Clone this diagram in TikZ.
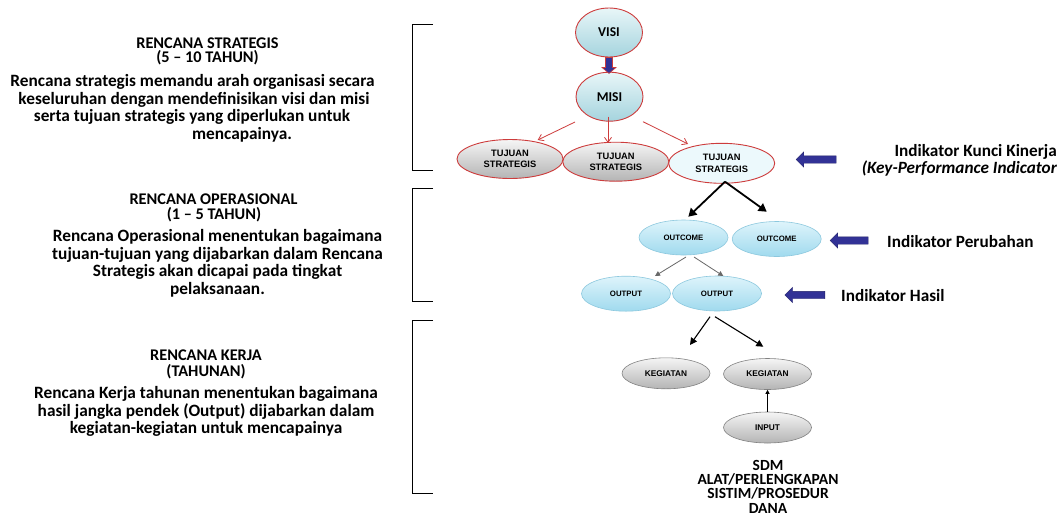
\documentclass[tikz,border=0pt]{standalone}
\usepackage{fontspec}
\newfontfamily\calf{Carlito}
\newfontfamily\arif{Liberation Sans}
\usetikzlibrary{shapes.geometric,shapes.arrows,arrows.meta,calc}
\definecolor{ored}{RGB}{205,60,60}
\definecolor{oblue}{RGB}{50,50,150}
\definecolor{cytop}{RGB}{232,246,248}
\definecolor{cybot}{RGB}{165,212,222}
\definecolor{grtop}{RGB}{245,245,245}
\definecolor{grbot}{RGB}{180,180,180}
\definecolor{bltop}{RGB}{222,244,251}
\definecolor{blbot}{RGB}{160,218,238}
\definecolor{blline}{RGB}{140,200,222}
\definecolor{grline}{RGB}{130,130,130}
\tikzset{
  ell/.style={ellipse, inner sep=0pt, align=center, line width=0.9pt},
  topell/.style={ell, draw=ored, top color=cytop, bottom color=cybot, minimum width=67pt, minimum height=49pt, font=\calf\bfseries\fontsize{13.5}{15}\selectfont},
  tsgray/.style={ell, draw=ored, top color=grtop, bottom color=grbot, minimum width=106pt, minimum height=39pt, font=\arif\bfseries\fontsize{9.3}{11.5}\selectfont},
  tslight/.style={ell, draw=ored, fill={rgb,255:red,236;green,249;blue,252}, minimum width=106pt, minimum height=40pt, font=\arif\bfseries\fontsize{9.3}{11.5}\selectfont},
  blell/.style={ell, draw=blline, line width=0.6pt, top color=bltop, bottom color=blbot, minimum width=89pt, minimum height=35pt, font=\arif\bfseries\fontsize{7.8}{9}\selectfont},
  grell/.style={ell, draw=grline, line width=0.6pt, top color=grtop, bottom color=grbot, minimum width=88pt, minimum height=31pt, font=\arif\bfseries\fontsize{8.3}{9}\selectfont},
  redarr/.style={draw=ored, line width=0.8pt, -{Straight Barb[length=5pt,width=7pt]}},
  blkarr/.style={draw=black, line width=1.8pt, -{Triangle[length=8pt,width=9pt]}},
  gryarr/.style={draw=grline!80!black, line width=0.8pt, -{Triangle[length=5pt,width=5pt]}},
  medarr/.style={draw=black, line width=1.1pt, -{Triangle[length=7pt,width=7pt]}},
  thinarr/.style={draw=black, line width=0.7pt, -{Triangle[length=4pt,width=4pt]}},
  bluearrow/.style={single arrow, fill=oblue, draw=oblue!70!black, line width=0.3pt, inner xsep=0pt, inner ysep=3.5pt, single arrow head extend=4pt, single arrow head indent=0pt, minimum height=40pt},
  titletxt/.style={font=\calf\bfseries\fontsize{16.3}{17.5}\selectfont, inner sep=0pt},
  lefttxt/.style={font=\calf\bfseries\fontsize{17.3}{17.5}\selectfont, inner sep=0pt},
  indtxt/.style={font=\calf\bfseries\fontsize{17.2}{17}\selectfont, inner sep=0pt},
  bracket/.style={draw=black, line width=0.8pt},
}
\begin{document}
\begin{tikzpicture}[x=1pt,y=-1pt]
\useasboundingbox (0,0) rectangle (1064,515);
\fill[white] (0,0) rectangle (1064,515);
% brackets
\draw[bracket] (433,24) -- (412,24) -- (412,170) -- (433,170);
\draw[bracket] (433,188) -- (412,188) -- (412,301) -- (433,301);
\draw[bracket] (433,320) -- (412,320) -- (412,493) -- (433,493);
% left texts block 1
\node[titletxt] (t1a) at (207.5,43) {RENCANA STRATEGIS};
\node[titletxt] (t1b) at (207.5,58) {(5 – 10 TAHUN)};
\node[lefttxt] (p1a) at (192.5,82) {Rencana strategis memandu arah organisasi secara};
\node[lefttxt] (p1b) at (194,99.5) {keseluruhan dengan mendefinisikan visi dan misi};
\node[lefttxt] (p1c) at (192,117) {serta tujuan strategis yang diperlukan untuk};
\node[lefttxt] (p1d) at (242,134.5) {mencapainya.};
% block 2
\node[titletxt] (t2a) at (213.5,199) {RENCANA OPERASIONAL};
\node[titletxt] (t2b) at (214,215) {(1 – 5 TAHUN)};
\node[lefttxt, align=center] (p2) at (217.5,263.3) {Rencana Operasional menentukan bagaimana\\tujuan-tujuan yang dijabarkan dalam Rencana\\Strategis akan dicapai pada tingkat\\pelaksanaan.};
% block 3
\node[titletxt] (t3a) at (206,355) {RENCANA KERJA};
\node[titletxt] (t3b) at (206,371.7) {(TAHUNAN)};
\node[lefttxt, align=center] (p3) at (206,411.7) {Rencana Kerja tahunan menentukan bagaimana\\hasil jangka pendek (Output) dijabarkan dalam\\kegiatan-kegiatan untuk mencapainya};
% diagram nodes
\node[topell] (visi) at (609,32.5) {VISI};
\node[topell] (misi) at (609.5,96.7) {MISI};
\node[tsgray] (ts1) at (510,159) {TUJUAN\\STRATEGIS};
\node[tsgray] (ts2) at (615.8,161.7) {TUJUAN\\STRATEGIS};
\node[tslight] (ts3) at (721.7,163.3) {TUJUAN\\STRATEGIS};
\node[blell] (oc1) at (683.5,237.5) {OUTCOME};
\node[blell] (oc2) at (776.7,239) {OUTCOME};
\node[blell] (op1) at (626,293.7) {OUTPUT};
\node[blell] (op2) at (717,293.5) {OUTPUT};
\node[grell] (kg1) at (666,373.3) {KEGIATAN};
\node[grell] (kg2) at (767.5,374) {KEGIATAN};
\node[grell] (inp) at (767.5,427.5) {INPUT};
\node[font=\calf\bfseries\fontsize{15.5}{14.3}\selectfont, align=center, inner sep=0pt] (res) at (768,486.5) {SDM\\ALAT/PERLENGKAPAN\\SISTIM/PROSEDUR\\DANA};
% visi -> misi block arrow
\coordinate (vs) at (visi.south);
\filldraw[fill=oblue, draw=ored, line width=0.6pt]
  ($(vs)+(-3.5,0)$) -- ($(vs)+(3.5,0)$) -- ($(vs)+(3.5,10)$) -- ($(vs)+(7,10)$)
  -- ($(vs)+(0,16)$) -- ($(vs)+(-7,10)$) -- ($(vs)+(-3.5,10)$) -- cycle;
% red arrows
\draw[redarr] ($(misi)+(-34.5,25.3)$) -- ($(ts1)+(27.7,-19)$);
\draw[redarr] ($(misi)+(-1.5,20)$) -- ($(ts2)+(-7.8,-18.7)$);
\draw[redarr] ($(misi)+(33.5,25)$) -- ($(ts3)+(-33.7,-19.3)$);
% black arrows from ts3
\draw[blkarr] ($(ts3)+(3.3,18.4)$) -- ($(oc1)+(4.8,-20.8)$);
\draw[blkarr] ($(ts3)+(3.3,18.4)$) -- ($(oc2)+(-10,-27.3)$);
% gray arrows from oc1
\draw[gryarr] ($(oc1)+(2.5,19.5)$) -- ($(op1)+(29,-17.7)$);
\draw[gryarr] ($(oc1)+(10.5,19.5)$) -- ($(op2)+(6.3,-17.5)$);
% arrows from op2
\draw[medarr] ($(op2)+(-7,23.2)$) -- ($(kg1)+(24,-28.3)$);
\draw[medarr] ($(op2)+(-2,23.2)$) -- ($(kg2)+(-4.2,-27.3)$);
% input arrow
\draw[thinarr] (inp.north) -- (kg2.south);
% indicator arrows and texts
\node[bluearrow, shape border rotate=180] (ba1) at (818,159.5) {};
\node[bluearrow, shape border rotate=180, minimum height=38pt] (ba2) at (851,240.5) {};
\node[bluearrow, shape border rotate=180] (ba3) at (806.7,295) {};
\node[indtxt, align=right, anchor=east] (ik) at (1057,160) {Indikator Kunci Kinerja\\\itshape (Key-Performance Indicator};
\node[indtxt, anchor=west] (ip) at (887,241.7) {Indikator Perubahan};
\node[indtxt, anchor=west] (ih) at (841,296) {Indikator Hasil};
\end{tikzpicture}
\end{document}
